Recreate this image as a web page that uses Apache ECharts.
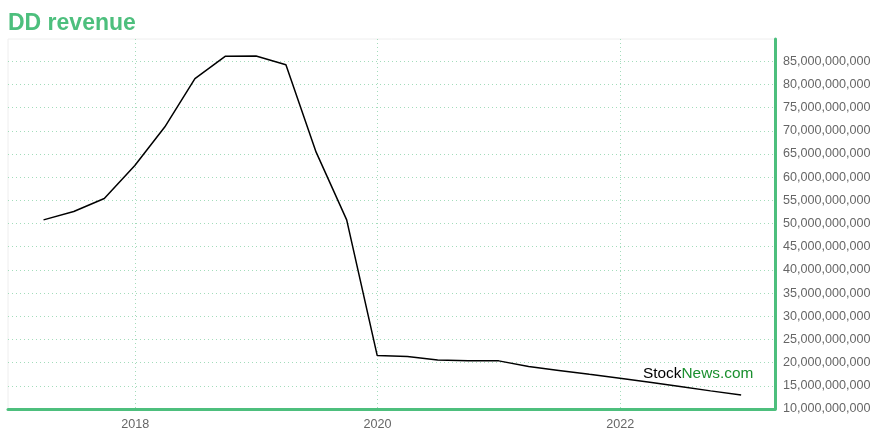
<!DOCTYPE html>
<html>
<head>
<meta charset="utf-8">
<script src="https://cdn.jsdelivr.net/npm/echarts@6/dist/echarts.min.js"></script>
<style>
html,body{margin:0;padding:0;background:#fff;}
#chart{width:880px;height:440px;}
</style>
</head>
<body>
<div id="chart"></div>
<script>
const title = 'DD revenue';
const dates = ['2017-03-31','2017-06-30','2017-09-30','2017-12-31',
  '2018-03-31','2018-06-30','2018-09-30','2018-12-31',
  '2019-03-31','2019-06-30','2019-09-30','2019-12-31',
  '2020-03-31','2020-06-30','2020-09-30','2020-12-31',
  '2021-03-31','2021-06-30','2021-09-30','2021-12-31',
  '2022-03-31','2022-06-30','2022-09-30','2022-12-31'];
const revenue = [50790000000, 52590000000, 55400000000, 62530000000,
  70810000000, 81270000000, 86090000000, 86120000000,
  84250000000, 65400000000, 50790000000, 21520000000,
  21310000000, 20590000000, 20380000000, 20380000000,
  19190000000, 18320000000, 17470000000, 16640000000,
  15750000000, 14840000000, 13910000000, 13030000000];
const xTickYears = ['2018-01-01','2020-01-01','2022-01-01'];
const xMin = '2016-12-14';
const xMax = '2023-04-12';
const yMin = 10000000000;
const yMax = 89800000000;
const yStep = 5000000000;

const GREEN = '#4dbf7d';
const GRID = '#a3dcbb';
const FONT = 'Liberation Sans, Arial, sans-serif';
const ts = d => Date.parse(d + 'T00:00:00Z');
const seriesData = dates.map((d, i) => [ts(d), revenue[i]]);

const chart = echarts.init(document.getElementById('chart'), null, {renderer: 'canvas'});
chart.setOption({
  animation: false,
  backgroundColor: '#fff',
  title: {
    text: title, left: 3, top: 7,
    textStyle: {color: GREEN, fontSize: 23, fontWeight: 'bold', fontFamily: FONT}
  },
  grid: {left: 8, right: 105, top: 39, bottom: 31, show: true, borderColor: '#eeeeee', borderWidth: 1, containLabel: false},
  xAxis: {
    type: 'value',
    min: ts(xMin), max: ts(xMax),
    axisLine: {show: true, onZero: false, lineStyle: {color: GREEN, width: 3}},
    axisTick: {show: false, customValues: xTickYears.map(ts)},
    axisLabel: {
      customValues: xTickYears.map(ts),
      formatter: v => String(new Date(v).getUTCFullYear()),
      color: '#666', fontSize: 12.6, margin: 9, fontFamily: FONT
    },
    splitLine: {show: true, lineStyle: {color: GRID, type: [1, 3], width: 1}}
  },
  yAxis: {
    type: 'value', position: 'right',
    min: yMin, max: yMax, interval: yStep,
    axisLine: {show: true, lineStyle: {color: GREEN, width: 3}},
    axisTick: {show: false},
    axisLabel: {
      showMaxLabel: false,
      formatter: v => v.toLocaleString('en-US'),
      color: '#666', fontSize: 12.6, margin: 8, fontFamily: FONT
    },
    splitLine: {show: true, showMaxLine: false, lineStyle: {color: GRID, type: [1, 3], width: 1}}
  },
  graphic: [{
    type: 'text', left: 643, top: 366, z: 100,
    style: {
      text: '{a|Stock}{b|News.com}',
      rich: {
        a: {fill: '#000', fontSize: 15.4, fontFamily: FONT},
        b: {fill: '#1a8f2e', fontSize: 15.4, fontFamily: FONT}
      }
    }
  }],
  series: [{
    type: 'line', data: seriesData, showSymbol: false, symbol: 'none',
    lineStyle: {color: '#000', width: 1.5}, z: 5
  }]
});
</script>
</body>
</html>
